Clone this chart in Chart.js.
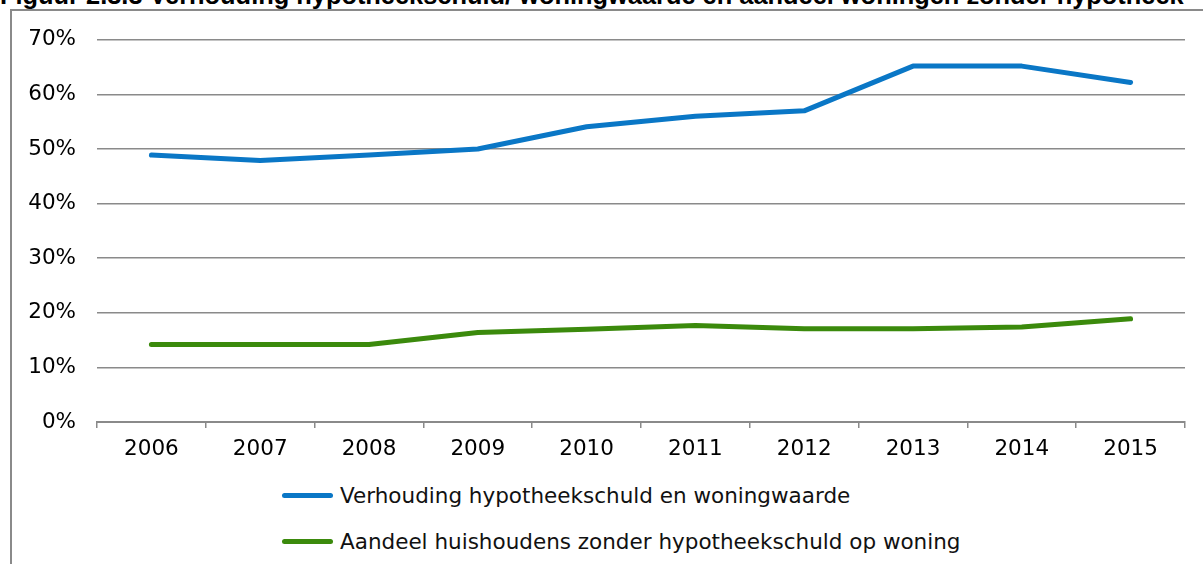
<!DOCTYPE html>
<html>
<head>
<meta charset="utf-8">
<script src="https://cdn.jsdelivr.net/npm/chart.js@4.4.1/dist/chart.umd.min.js"></script>
<style>
    html, body { margin: 0; padding: 0; background: #fff; }
    body { width: 1203px; height: 564px; position: relative; overflow: hidden; font-family: "DejaVu Sans", sans-serif; }
    #title { position: absolute; left: 0; top: -17px; font: bold 25.4px "Liberation Sans", Arial, sans-serif; line-height: 25px; white-space: nowrap; color: #000; }
    #frame { position: absolute; left: 10px; top: 9px; width: 1300px; height: 700px; border-top: 2px solid #8a8a8a; border-left: 2px solid #8a8a8a; }
    #chartBox { position: absolute; left: 12px; top: 6px; width: 1191px; height: 466px; }
    #legend { position: absolute; left: 282px; top: 472px; }
    .legend-item { display: flex; align-items: center; height: 46px; font-size: 21.5px; color: #111; white-space: nowrap; }
    .legend-swatch { width: 51px; height: 5px; border-radius: 3px; margin-right: 7px; }
</style>
</head>
<body>
<div id="title">Figuur 2.3.3 Verhouding hypotheekschuld/ woningwaarde en aandeel woningen zonder hypotheek</div>
<div id="frame"></div>
<div id="chartBox"><canvas id="hypotheekChart"></canvas></div>
<div id="legend"></div>
<script>
// data
const years = ['2006', '2007', '2008', '2009', '2010', '2011', '2012', '2013', '2014', '2015'];
const schuldWaardeRatio = [48.9, 47.9, 48.9, 50.0, 54.1, 56.0, 57.0, 65.2, 65.2, 62.2];
const zonderHypotheek = [14.2, 14.2, 14.2, 16.4, 17.0, 17.7, 17.1, 17.1, 17.4, 18.9];
const seriesLabels = [
    'Verhouding hypotheekschuld en woningwaarde',
    'Aandeel huishoudens zonder hypotheekschuld op woning'
];
const yTickValues = [0, 10, 20, 30, 40, 50, 60, 70];

document.addEventListener('DOMContentLoaded', function () {
    const canvas = document.getElementById('hypotheekChart');
    if (!canvas) return;

    const gridGrey = '#8a8a8a';
    const tickFont = { family: '"DejaVu Sans", sans-serif', size: 21.5 };

    const chart = new Chart(canvas, {
        type: 'line',
        data: {
            labels: years,
            datasets: [
                {
                    label: seriesLabels[0],
                    data: schuldWaardeRatio,
                    borderColor: '#0a77c6',
                    backgroundColor: '#0a77c6'
                },
                {
                    label: seriesLabels[1],
                    data: zonderHypotheek,
                    borderColor: '#3b8a0c',
                    backgroundColor: '#3b8a0c'
                }
            ]
        },
        options: {
            responsive: true,
            maintainAspectRatio: false,
            animation: false,
            layout: {
                padding: { top: 21, right: 18, left: 0, bottom: 0 }
            },
            elements: {
                line: {
                    borderWidth: 5,
                    tension: 0,
                    borderCapStyle: 'round',
                    borderJoinStyle: 'round'
                },
                point: { radius: 0, hoverRadius: 0 }
            },
            plugins: {
                legend: { display: false },
                tooltip: { enabled: false }
            },
            scales: {
                x: {
                    offset: true,
                    grid: {
                        offset: true,
                        drawOnChartArea: false,
                        drawTicks: true,
                        tickLength: 6,
                        color: gridGrey,
                        lineWidth: 1.5
                    },
                    border: { color: gridGrey, width: 2 },
                    ticks: {
                        color: '#000',
                        font: tickFont,
                        padding: 9,
                        maxRotation: 0,
                        autoSkip: false
                    },
                    afterFit: function (scale) {
                        scale.height = 50;
                    }
                },
                y: {
                    min: 0,
                    max: 70,
                    afterBuildTicks: function (scale) {
                        scale.ticks = yTickValues.map(v => ({ value: v }));
                    },
                    ticks: {
                        color: '#000',
                        font: tickFont,
                        padding: 21,
                        callback: function (value) {
                            return value + '%';
                        }
                    },
                    grid: {
                        color: gridGrey,
                        lineWidth: 1.5,
                        drawTicks: false
                    },
                    border: { display: false },
                    afterFit: function (scale) {
                        scale.width = 85;
                    }
                }
            }
        }
    });

    // legend as two stacked rows, like the original
    const legendEl = document.getElementById('legend');
    chart.data.datasets.forEach(ds => {
        const item = document.createElement('div');
        item.className = 'legend-item';
        const swatch = document.createElement('span');
        swatch.className = 'legend-swatch';
        swatch.style.background = ds.borderColor;
        const text = document.createElement('span');
        text.textContent = ds.label;
        item.appendChild(swatch);
        item.appendChild(text);
        legendEl.appendChild(item);
    });
});
</script>
</body>
</html>
